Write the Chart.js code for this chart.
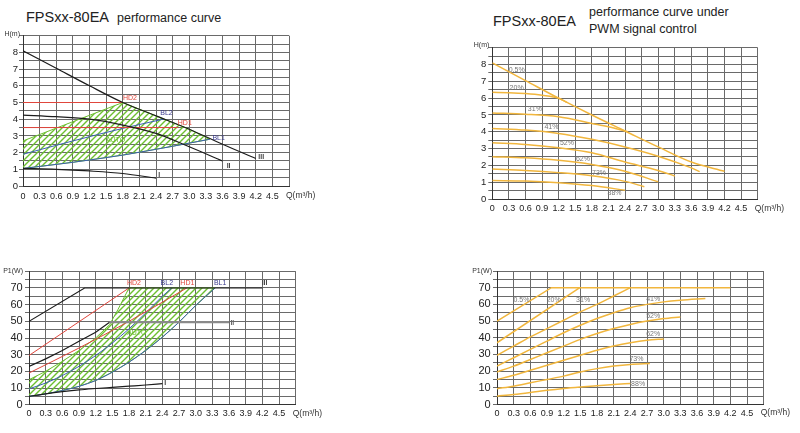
<!DOCTYPE html>
<html>
<head>
<meta charset="utf-8">
<script src="https://cdn.jsdelivr.net/npm/chart.js@4.4.0/dist/chart.umd.min.js"></script>
<style>
  body { margin: 0; background: #fff; width: 800px; height: 433px; overflow: hidden; position: relative;
         font-family: "Liberation Sans", Arial, sans-serif; }
  .box { position: absolute; }
  .t { position: absolute; color: #222; white-space: nowrap; line-height: 1; }
</style>
</head>
<body>
<div class="t" style="left:26px;top:10.4px;font-size:14.5px">FPSxx-80EA</div>
<div class="t" style="left:117px;top:12.1px;font-size:12.5px">performance curve</div>
<div class="t" style="left:493px;top:13.9px;font-size:14.5px">FPSxx-80EA</div>
<div class="t" style="left:589px;top:6.4px;font-size:12.5px">performance curve under</div>
<div class="t" style="left:589px;top:23.4px;font-size:12.5px">PWM signal control</div>

<div class="box" style="left:0;top:28px;width:345px;height:180px"><canvas id="tl"></canvas></div>
<div class="box" style="left:468px;top:40px;width:332px;height:181px"><canvas id="tr"></canvas></div>
<div class="box" style="left:0;top:262px;width:345px;height:171px"><canvas id="bl"></canvas></div>
<div class="box" style="left:468px;top:262px;width:332px;height:171px"><canvas id="br"></canvas></div>

<script>
// axis ticks
var qTicks  = [0, 0.3, 0.6, 0.9, 1.2, 1.5, 1.8, 2.1, 2.4, 2.7, 3.0, 3.3, 3.6, 3.9, 4.2, 4.5, 4.8];
var qLabels = ['0', '0.3', '0.6', '0.9', '1.2', '1.5', '1.8', '2.1', '2.4', '2.7', '3.0', '3.3', '3.6', '3.9', '4.2', '4.5', ''];
var hTicks  = [0, 0.5, 1, 1.5, 2, 2.5, 3, 3.5, 4, 4.5, 5, 5.5, 6, 6.5, 7, 7.5, 8, 8.5, 9];
var hLabels = ['0', '', '1', '', '2', '', '3', '', '4', '', '5', '', '6', '', '7', '', '8', '', ''];
var pTicks  = [0, 5, 10, 15, 20, 25, 30, 35, 40, 45, 50, 55, 60, 65, 70, 75, 80];
var pLabels = ['0', '', '10', '', '20', '', '30', '', '40', '', '50', '', '60', '', '70', '', ''];

// performance curve, head H(m) vs flow Q
var hIIIq = [0, 0.6, 1.2, 1.8, 2.4, 3.0, 3.6, 4.2];
var hIIIh = [8.1, 7.05, 6.0, 5.0, 4.2, 3.4, 2.5, 1.65];
var hIIq  = [0, 0.6, 1.2, 1.8, 2.4, 3.0, 3.6];
var hIIh  = [4.25, 4.15, 4.0, 3.65, 3.15, 2.35, 1.5];
var hIq   = [0, 0.6, 1.2, 1.8, 2.4];
var hIh   = [1.05, 1.0, 0.9, 0.75, 0.47];
var hHD2q = [0, 1.8];
var hHD2h = [5, 5];
var hHD1q = [0, 2.8];
var hHD1h = [3.5, 3.5];
var hBL2q = [0, 0.9, 1.8, 2.53];
var hBL2h = [1.9, 2.7, 3.45, 4.0];
var hBL1q = [0, 0.9, 1.8, 2.7, 3.37];
var hBL1h = [1.05, 1.42, 1.85, 2.38, 2.8];
var hAutoq = [0, 1.8];          // upper-left edge of the AUTO area
var hAutoh = [2.7, 5.0];

// performance curve, power P1(W) vs flow Q
var pIIIq = [0, 1.0, 4.2];
var pIIIp = [50, 70, 70];
var pIIq  = [0, 0.3, 0.6, 0.9, 1.2, 1.45, 3.6];
var pIIp  = [23, 27.5, 32.5, 38, 43.5, 49.5, 49.5];
var pIq   = [0, 0.3, 0.6, 0.9, 1.2, 1.5, 1.8, 2.1, 2.4];
var pIp   = [5, 6.5, 7.8, 8.9, 9.7, 10.4, 11.1, 11.8, 12.6];
var pHD2q = [0, 1.8];
var pHD2p = [29.5, 70];
var pHD1q = [0, 0.9, 1.8, 2.84];
var pHD1p = [19, 34, 50, 70];
var pBL2q = [0, 0.3, 0.6, 0.9, 1.2, 1.5, 1.8, 2.1, 2.4, 2.57];
var pBL2p = [9.5, 13, 17.5, 23, 29.5, 37, 45.5, 55, 65, 70];
var pBL1q = [0, 0.3, 0.6, 0.9, 1.2, 1.5, 1.8, 2.1, 2.4, 2.7, 3.0, 3.35];
var pBL1p = [5, 6.5, 8.5, 11, 14.5, 19.5, 25.5, 32.5, 40.5, 49.5, 59.5, 70];
var pAutoq = [0, 0.3, 0.6, 0.9, 1.2, 1.45, 1.6, 1.8];
var pAutop = [15, 20, 26, 32.5, 40, 48, 57, 70];

// PWM head curves
var pwmNames = ['0.5%', '20%', '31%', '41%', '52%', '62%', '73%', '88%'];
var pwmHq = [
  [0, 0.6, 1.2, 1.8, 2.4, 3.0, 3.6, 4.2],
  [0, 0.3, 0.6, 0.9, 1.2, 1.35],
  [0, 0.6, 1.2, 1.8, 2.1, 2.45],
  [0, 0.6, 1.2, 1.8, 2.4, 3.0, 3.6, 3.75],
  [0, 0.6, 1.2, 1.8, 2.4, 3.0, 3.3],
  [0, 0.6, 1.2, 1.8, 2.4, 3.0],
  [0, 0.6, 1.2, 1.8, 2.4, 2.75],
  [0, 0.6, 1.2, 1.8, 2.4]
];
var pwmHh = [
  [8.1, 7.05, 6.0, 5.0, 4.05, 3.1, 2.2, 1.65],
  [6.35, 6.33, 6.28, 6.18, 6.0, 5.75],
  [5.12, 5.05, 4.9, 4.5, 4.3, 4.0],
  [4.2, 4.1, 3.9, 3.55, 3.1, 2.55, 1.85, 1.63],
  [3.35, 3.25, 3.05, 2.75, 2.2, 1.7, 1.37],
  [2.52, 2.45, 2.3, 2.05, 1.65, 1.03],
  [1.78, 1.7, 1.57, 1.38, 1.05, 0.73],
  [1.1, 1.07, 0.97, 0.8, 0.52]
];
// PWM power curves
var pwmPq = [
  [0, 0.98, 4.2],
  [0, 1.49],
  [0, 0.3, 0.6, 0.9, 1.2, 1.5, 1.8, 2.1, 2.4],
  [0, 0.3, 0.6, 0.9, 1.2, 1.5, 1.8, 2.1, 2.4, 2.7, 3.0, 3.3, 3.75],
  [0, 0.3, 0.6, 0.9, 1.2, 1.5, 1.8, 2.1, 2.4, 2.7, 3.0, 3.3],
  [0, 0.3, 0.6, 0.9, 1.2, 1.5, 1.8, 2.1, 2.4, 2.7, 3.0],
  [0, 0.3, 0.6, 0.9, 1.2, 1.5, 1.8, 2.1, 2.4, 2.75],
  [0, 0.3, 0.6, 0.9, 1.2, 1.5, 1.8, 2.1, 2.4]
];
var pwmPp = [
  [50, 70, 70],
  [37, 70],
  [29.5, 35, 40.5, 45.5, 50.5, 55.5, 60, 65, 70],
  [23, 28, 33, 38, 43, 47.5, 51.5, 55, 58, 60, 61.5, 62.5, 63.5],
  [19.5, 23, 27, 31, 35, 39, 42.5, 45.5, 48, 50, 51.5, 52.5],
  [15, 17.5, 20.5, 23.5, 26.5, 29.5, 32.5, 35, 37, 38.5, 39.3],
  [9.5, 11, 13, 15, 17, 19.5, 21.5, 23, 24, 24.5],
  [5, 6, 7.2, 8.5, 9.6, 10.5, 11.3, 12, 12.6]
];

Chart.defaults.font.family = '"Liberation Sans", Arial, sans-serif';
Chart.defaults.color = '#222';
Chart.defaults.animation = false;

var BLACK = '#1c1c1c', RED = '#e0463c', BLUE = '#3d5fb2', GREEN = '#6cbf30', ORANGE = '#f1b63d', GRID = '#6a6a6a';
var FONT = '"Liberation Sans", Arial, sans-serif';

function pts(xs, ys) {
  return xs.map(function (v, i) { return { x: v, y: ys[i] }; });
}

function line(data, color, width, straight) {
  var ds = { data: data, borderColor: color, borderWidth: width, showLine: true, pointRadius: 0,
             fill: false, order: 1 };
  if (!straight) ds.cubicInterpolationMode = 'monotone';
  return ds;
}

// diagonal "///" hatching for the AUTO area
function hatch() {
  var c = document.createElement('canvas');
  c.width = 6; c.height = 6;
  var g = c.getContext('2d');
  g.strokeStyle = GREEN; g.lineWidth = 1.4;
  g.beginPath();
  g.moveTo(0, 6); g.lineTo(6, 0);
  g.moveTo(-1, 1); g.lineTo(1, -1);
  g.moveTo(5, 7); g.lineTo(7, 5);
  g.stroke();
  return g.createPattern(c, 'repeat');
}

function area(poly) {
  return { data: poly, borderColor: GREEN, borderWidth: 1, backgroundColor: hatch(), showLine: true,
           pointRadius: 0, fill: 'shape', tension: 0, order: 5 };
}

function texts(o) {
  return {
    id: 'texts',
    afterDatasetsDraw: function (chart) {
      var ctx = chart.ctx, a = chart.chartArea, x = chart.scales.x, y = chart.scales.y;
      ctx.save();
      ctx.fillStyle = '#333';
      ctx.textBaseline = 'middle';
      ctx.textAlign = 'right';
      ctx.font = '7px ' + FONT;
      ctx.fillText(o.yTitle, a.left - o.yTitleGap, a.top - o.yTitleUp);
      ctx.textAlign = 'left';
      ctx.font = '8.5px ' + FONT;
      ctx.fillText('Q(m\u00b3/h)', a.right - 3, a.bottom + o.xPad + 5);
      ctx.textAlign = 'center';
      o.notes.forEach(function (n) {
        ctx.fillStyle = n[3];
        ctx.font = (n[4] || '7px ') + FONT;
        ctx.fillText(n[0], x.getPixelForValue(n[1]), y.getPixelForValue(n[2]));
      });
      ctx.restore();
    }
  };
}

function panel(id, o) {
  new Chart(document.getElementById(id), {
    type: 'scatter',
    data: { datasets: o.sets },
    options: {
      responsive: true,
      maintainAspectRatio: false,
      animation: false,
      layout: { padding: { top: o.padTop, right: o.padRight, bottom: 0, left: 0 } },
      plugins: { legend: { display: false }, tooltip: { enabled: false } },
      scales: {
        x: {
          type: 'linear', min: 0, max: 4.8,
          afterBuildTicks: function (s) { s.ticks = qTicks.map(function (v) { return { value: v }; }); },
          afterFit: function (s) { s.height = o.xHeight; },
          ticks: { autoSkip: false, maxRotation: 0, padding: o.xPad, font: { size: 9 },
                   callback: function (v, i) { return qLabels[i]; } },
          grid: { color: GRID, drawTicks: false },
          border: { color: '#333' }
        },
        y: {
          type: 'linear', min: 0, max: o.yMax,
          afterBuildTicks: function (s) { s.ticks = o.yTicks.map(function (v) { return { value: v }; }); },
          afterFit: function (s) { s.width = o.yWidth; },
          ticks: { autoSkip: false, padding: o.yPad, font: { size: o.yFont },
                   callback: function (v, i) { return o.yLabels[i]; } },
          grid: { color: GRID, tickLength: 4 },
          border: { color: '#333' }
        }
      }
    },
    plugins: [texts(o)]
  });
}

// top left: H-Q
var hAutoPoly = pts(hAutoq, hAutoh)
  .concat(pts(hIIIq.slice(4), hIIIh.slice(4)).filter(function (p) { return p.x < 3.37; }))
  .concat(pts(hBL1q, hBL1h).reverse());
panel('tl', {
  padTop: 7.7, padRight: 56, xHeight: 22, yWidth: 23, xPad: 5, yPad: 1, yFont: 9.5,
  yMax: 9, yTicks: hTicks, yLabels: hLabels, yTitle: 'H(m)', yTitleGap: 3, yTitleUp: 2,
  sets: [
    line(pts(hIIIq, hIIIh), BLACK, 1.2),
    line(pts(hIIq, hIIh), BLACK, 1.2),
    line(pts(hIq, hIh), BLACK, 1.2),
    line(pts(hHD2q, hHD2h), RED, 1, true),
    line(pts(hHD1q, hHD1h), RED, 1, true),
    line(pts(hBL2q, hBL2h), BLUE, 1),
    line(pts(hBL1q, hBL1h), BLUE, 1),
    area(hAutoPoly)
  ],
  notes: [
    ['HD2', 1.93, 5.29, RED], ['BL2', 2.59, 4.35, '#3a3a8c'], ['HD1', 2.92, 3.75, RED],
    ['BL1', 3.53, 2.86, '#3a3a8c'], ['AUTO', 1.67, 2.75, GREEN],
    ['III', 4.3, 1.75, '#444', 'bold 7px '], ['II', 3.71, 1.22, '#444', 'bold 7px '], ['I', 2.46, 0.66, '#444', 'bold 7px ']
  ]
});

// top right: PWM H-Q
panel('tr', {
  padTop: 7.8, padRight: 42.3, xHeight: 22, yWidth: 24.3, xPad: 4.3, yPad: 2, yFont: 9.5,
  yMax: 9, yTicks: hTicks, yLabels: hLabels, yTitle: 'H(m)', yTitleGap: 3, yTitleUp: 3,
  sets: pwmNames.map(function (n, i) { return line(pts(pwmHq[i], pwmHh[i]), ORANGE, 1.5); }),
  notes: [
    ['0.5%', 0.44, 7.7, '#777'], ['20%', 0.44, 6.6, '#777'], ['31%', 0.77, 5.36, '#777'],
    ['41%', 1.07, 4.28, '#777'], ['52%', 1.35, 3.3, '#777'], ['62%', 1.64, 2.38, '#777'],
    ['73%', 1.93, 1.53, '#777'], ['88%', 2.21, 0.36, '#777']
  ]
});

// bottom left: P1-Q
var pAutoPoly = pts(pAutoq, pAutop)
  .concat(pts(pBL1q, pBL1p).reverse());
var pII = line(pts(pIIq, pIIp), BLACK, 1.2, true);
pII.segment = { borderColor: function (c) { return c.p0.parsed.y === c.p1.parsed.y ? '#8a8a8a' : undefined; },
                borderWidth: function (c) { return c.p0.parsed.y === c.p1.parsed.y ? 2.2 : undefined; } };
panel('bl', {
  padTop: 9.3, padRight: 49.3, xHeight: 28.3, yWidth: 29, xPad: 3.6, yPad: 2.3, yFont: 11,
  yMax: 80, yTicks: pTicks, yLabels: pLabels, yTitle: 'P1(W)', yTitleGap: 6, yTitleUp: 0,
  sets: [
    line(pts(pIIIq, pIIIp), BLACK, 1.2, true),
    pII,
    line(pts(pIq, pIp), BLACK, 1.2),
    line(pts(pHD2q, pHD2p), RED, 1, true),
    line(pts(pHD1q, pHD1p), RED, 1),
    line(pts(pBL2q, pBL2p), BLUE, 1),
    line(pts(pBL1q, pBL1p), BLUE, 1),
    area(pAutoPoly)
  ],
  notes: [
    ['HD2', 1.89, 72.8, RED], ['BL2', 2.48, 72.8, '#3a3a8c'], ['HD1', 2.85, 72.8, RED],
    ['BL1', 3.44, 72.8, '#3a3a8c'], ['AUTO', 1.94, 43, GREEN],
    ['III', 4.24, 72.8, '#444', 'bold 7px '], ['II', 3.66, 48.8, '#666', 'bold 7px '], ['I', 2.45, 12.8, '#444', 'bold 7px ']
  ]
});

// bottom right: PWM P1-Q
panel('br', {
  padTop: 9, padRight: 36.3, xHeight: 28.5, yWidth: 29, xPad: 3.6, yPad: 2.3, yFont: 11,
  yMax: 80, yTicks: pTicks, yLabels: pLabels, yTitle: 'P1(W)', yTitleGap: 5, yTitleUp: 0,
  sets: pwmNames.map(function (n, i) { return line(pts(pwmPq[i], pwmPp[i]), ORANGE, 1.5, i < 2); }),
  notes: [
    ['0.5%', 0.44, 62.6, '#777'], ['20%', 1.02, 62.6, '#777'], ['31%', 1.55, 62.6, '#777'],
    ['41%', 2.81, 63, '#777'], ['52%', 2.81, 52.7, '#777'], ['62%', 2.81, 42.1, '#777'],
    ['73%', 2.51, 27.4, '#777'], ['88%', 2.54, 12.5, '#777']
  ]
});
</script>
</body>
</html>
